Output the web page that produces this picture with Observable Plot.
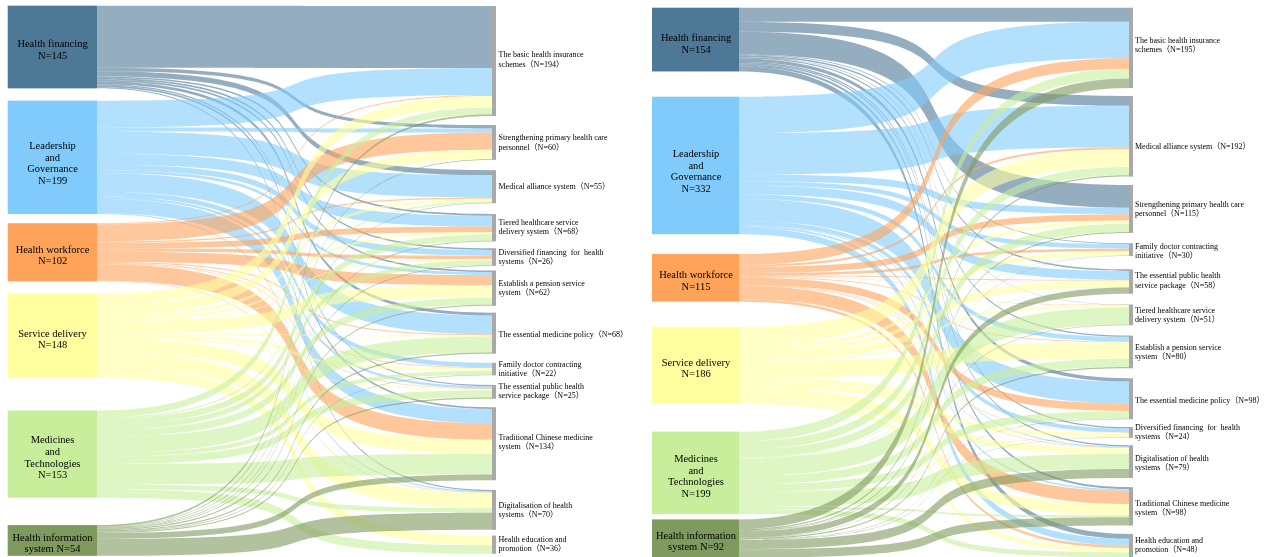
<!DOCTYPE html>
<html>
<head>
<meta charset="utf-8">
<script src="https://cdn.jsdelivr.net/npm/d3@7"></script>
<script src="https://cdn.jsdelivr.net/npm/@observablehq/plot@0.6"></script>
<style>
html,body{margin:0;padding:0;background:#fff;overflow:hidden}
#root{display:flex;width:1280px;height:557px;filter:blur(0.35px)}
svg{display:block}
</style>
</head>
<body>
<div id="root"></div>
<script>
// ---------- Data ----------
const sourceKeys = ["Health financing","Leadership and Governance","Health workforce","Service delivery","Medicines and Technologies","Health information system"];
const sourceColors = ["#4d7896","#80cbfc","#ffa35a","#ffffa0","#c8ee9c","#7f9a5e"];

const leftSourceLabels = ["Health financing\nN=145","Leadership\nand\nGovernance\nN=199","Health workforce\nN=102","Service delivery\nN=148","Medicines\nand\nTechnologies\nN=153","Health information\nsystem N=54"];
const leftTargetLabels = [
  "The basic health insurance\nschemes（N=194）","Strengthening primary health care\npersonnel（N=60）","Medical alliance system（N=55）",
  "Tiered healthcare service\ndelivery system（N=68）","Diversified financing  for  health\nsystems（N=26）","Establish a pension service\nsystem（N=62）",
  "The essential medicine policy（N=68）","Family doctor contracting\ninitiative（N=22）","The essential public health\nservice package（N=25）",
  "Traditional Chinese medicine\nsystem（N=134）","Digitalisation of health\nsystems（N=70）","Health education and\npromotion（N=36）"];
const leftHF  = [109,6,9,3,3,3,5,0,2,3,2,0];
const leftLG  = [47,7,39,19,10,5,33,8,4,25,2,0];
const leftHW  = [2,30,2,10,6,18,2,1,1,29,1,0];
const leftSD  = [20,17,5,4,2,22,2,5,2,25,27,17];
const leftMT  = [12,0,2,11,9,12,28,7,13,36,8,15];
const leftHIS = [3,1,1,1,1,2,2,1,2,10,30,0];

const rightSourceLabels = ["Health financing\nN=154","Leadership\nand\nGovernance\nN=332","Health workforce\nN=115","Service delivery\nN=186","Medicines\nand\nTechnologies\nN=199","Health information\nsystem N=92"];
const rightTargetLabels = [
  "The basic health insurance\nschemes（N=195）","Medical alliance system（N=192）","Strengthening primary health care\npersonnel（N=115）",
  "Family doctor contracting\ninitiative（N=30）","The essential public health\nservice package（N=58）","Tiered healthcare service\ndelivery system（N=51）",
  "Establish a pension service\nsystem（N=80）","The essential medicine policy（N=98）","Diversified financing  for  health\nsystems（N=24）",
  "Digitalisation of health\nsystems（N=79）","Traditional Chinese medicine\nsystem（N=98）","Health education and\npromotion（N=48）"];
const rightHF  = [34,24,55,2,4,1,3,8,3,3,5,12];
const rightLG  = [88,100,16,11,21,0,11,53,10,2,4,16];
const rightHW  = [26,5,15,6,2,1,2,18,1,1,32,6];
const rightSD  = [0,43,8,10,16,5,40,1,10,15,27,11];
const rightMT  = [23,20,20,1,1,42,20,18,1,36,5,12];
const rightHIS = [23,3,2,1,15,1,3,1,1,22,20,0];

// ---------- Layout parameters (spacing in value units) ----------
const leftLayout = {
  unitsPerHeight: 557/0.57,
  sourceGaps:[10,21.6,16,21.6,57,48],
  targetGaps:[10.5,16,18,19,12,8,12,16,17,15,17,10],
  nodeX:[7.7,97], flowX:[97,492], barX:[492,496], labelX:498, sourceLabelX:52,
  sourceShift:[2,5,2,2.5,2.5,2], targetShift:[-2.5,-1,-1,-1.5,-1,-1,0,-1,-1.5,-2.5,-1,-1.5]
};
const rightLayout = {
  unitsPerHeight: 557/0.414,
  sourceGaps:[18.6,61,48,61,67,13],
  targetGaps:[18.6,19,20,25,32,26,25,24,19,18,22,20],
  nodeX:[12,99], flowX:[99,489], barX:[489,493], labelX:494.5, sourceLabelX:55.5,
  sourceShift:[3,5,2,2,2.5,2], targetShift:[-3.5,9,-1,0.5,-2,-1,-1,1,-1,0,1,-2]
};

// Ribbon curve: horizontal tangents with long handles, so ribbons stay flat and turn mid-way
const handle = 0.8;
function ribbonCurve(ctx){
  let line, pt, x0, y0;
  return {
    areaStart(){line=0},
    areaEnd(){line=NaN},
    lineStart(){pt=0},
    lineEnd(){ if(line||(line!==0&&pt===1)) ctx.closePath(); line=1-line; },
    point(x,y){
      x=+x;y=+y;
      if(pt===0){ pt=1; if(line) ctx.lineTo(x,y); else ctx.moveTo(x,y); }
      else { const d=x-x0; ctx.bezierCurveTo(x0+handle*d,y0,x-handle*d,y,x,y); }
      x0=x;y0=y;
    }
  };
}

// ---------- Stacking ----------
function panel(matrix, srcLabels, tgtLabels, L){
  const u = L.unitsPerHeight/557; // value units per pixel
  const flows = [], sources = [], targets = [];
  let yT = 0;
  const tTotals = tgtLabels.map((_,j)=>d3.sum(matrix,r=>r[j]));
  const tCursor = tTotals.map((t,j)=>{
    yT += L.targetGaps[j];
    const top = yT; yT += t;
    targets.push({label:tgtLabels[j], y1:top, y2:top+t, mid:top+t/2+L.targetShift[j]*u});
    return top;
  });
  let yS = 0;
  matrix.forEach((row,i)=>{
    yS += L.sourceGaps[i];
    const top = yS, total = d3.sum(row);
    sources.push({key:sourceKeys[i], label:srcLabels[i], y1:top, y2:top+total, mid:top+total/2+L.sourceShift[i]*u});
    let c = top;
    row.forEach((v,j)=>{
      if(v>0){
        const id = i+"-"+j;
        flows.push({id, source:sourceKeys[i], x:L.flowX[0], y1:c, y2:c+v});
        flows.push({id, source:sourceKeys[i], x:L.flowX[1], y1:tCursor[j], y2:tCursor[j]+v});
        tCursor[j]+=v;
      }
      c+=v;
    });
    yS += total;
  });
  const font = "'Liberation Serif','Noto Sans CJK SC',serif";
  return Plot.plot({
    width:640, height:557, margin:0,
    style:{fontFamily:font, background:"#fff", overflow:"visible"},
    x:{domain:[0,640], range:[0,640], axis:null},
    y:{domain:[0,L.unitsPerHeight], range:[0,557], axis:null},
    color:{domain:sourceKeys, range:sourceColors},
    marks:[
      Plot.area(flows,{x1:"x",y1:"y1",y2:"y2",z:"id",fill:"source",fillOpacity:0.6,curve:ribbonCurve}),
      Plot.rect(sources,{x1:L.nodeX[0],x2:L.nodeX[1],y1:"y1",y2:"y2",fill:"key"}),
      Plot.rect(targets,{x1:L.barX[0],x2:L.barX[1],y1:"y1",y2:"y2",fill:"#a9a9a9"}),
      Plot.text(sources,{x:L.sourceLabelX,y:"mid",text:"label",fontSize:10.5,lineHeight:1.1,fill:"#000",textAnchor:"middle"}),
      Plot.text(targets,{x:L.labelX,y:"mid",text:"label",fontSize:8,lineHeight:1.15,fill:"#000",textAnchor:"start"})
    ]
  });
}

const root = document.getElementById("root");
root.append(panel([leftHF,leftLG,leftHW,leftSD,leftMT,leftHIS],leftSourceLabels,leftTargetLabels,leftLayout));
root.append(panel([rightHF,rightLG,rightHW,rightSD,rightMT,rightHIS],rightSourceLabels,rightTargetLabels,rightLayout));
</script>
</body>
</html>
